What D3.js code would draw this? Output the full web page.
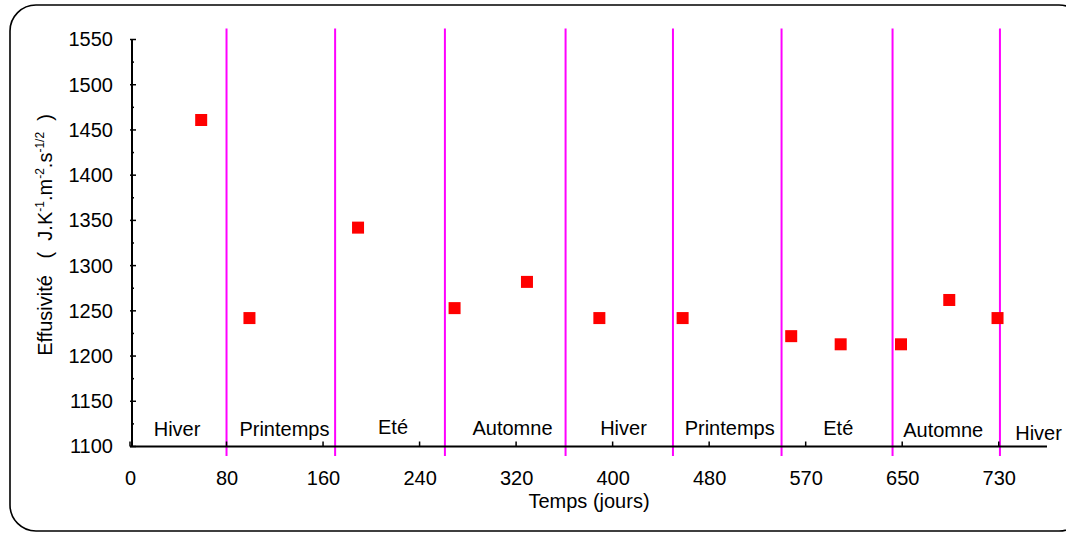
<!DOCTYPE html>
<html lang="fr">
    <head>
        <meta charset="UTF-8">
        <style>
            html, body{
                margin: 0;
                padding: 0;
                background: #fff;
                font-family: 'Liberation Sans', Arial, sans-serif;
            }
            #chart text{
                fill: #000;
            }
        </style>
    </head>
    <body>
        <svg id="chart" width="1066" height="533"></svg>

        <script src="https://d3js.org/d3.v7.min.js"></script>
        <script>
            // ---- data ----
            const days = [59, 99, 189, 269, 329, 389, 458, 548, 589, 639, 679, 719]
            const effusivity = [1461, 1242, 1342, 1253, 1282, 1242, 1242, 1222, 1213, 1213, 1262, 1242]

            const seasonLimits = [80, 170, 261, 361, 450, 540, 632, 721]
            const seasonNames = ['Hiver', 'Printemps', 'Eté', 'Automne', 'Hiver', 'Printemps', 'Eté', 'Automne', 'Hiver']
            const seasonX = [39, 128, 218, 317, 409, 497, 587, 674, 753]
            const seasonY = [1119, 1119, 1122, 1120, 1121, 1120, 1120, 1118, 1115]

            const xTicks = [0, 80, 160, 240, 320, 400, 480, 560, 640, 720]
            const xTickLabels = ['0', '80', '160', '240', '320', '400', '480', '570', '650', '730']
            const yTicks = [1100, 1150, 1200, 1250, 1300, 1350, 1400, 1450, 1500, 1550]
            const yMinorTicks = d3.range(1125, 1550, 50)

            // ---- layout ----
            const svg = d3.select('#chart')
            const plot = {left: 130, right: 1047, top: 39.5, bottom: 446.5}

            const x = d3.scaleLinear().domain([0, 760]).range([plot.left, plot.right])
            const y = d3.scaleLinear().domain([1100, 1550]).range([plot.bottom, plot.top])

            // frame
            svg.append('rect')
                .attr('x', 10).attr('y', 5)
                .attr('width', 1075).attr('height', 526)
                .attr('rx', 26)
                .attr('fill', 'none')
                .attr('stroke', '#000')
                .attr('stroke-width', 1.6)

            // season separators
            svg.append('g').selectAll('line')
                .data(seasonLimits)
                .join('line')
                .attr('x1', d => x(d)).attr('x2', d => x(d))
                .attr('y1', plot.top - 11).attr('y2', plot.bottom + 9.5)
                .attr('stroke', '#ff00ff')
                .attr('stroke-width', 2)

            // y axis
            const yAxis = svg.append('g').attr('transform', `translate(${plot.left + 2},0)`)
            yAxis.call(d3.axisLeft(y).tickValues(yTicks).tickSize(0).tickPadding(19).tickFormat(d3.format('d')))
            yAxis.select('.domain').remove()
            yAxis.append('line')
                .attr('x1', 0).attr('x2', 0)
                .attr('y1', plot.top).attr('y2', plot.bottom)
                .attr('stroke', '#000').attr('stroke-width', 2)
            yAxis.selectAll('line.major')
                .data(yTicks).join('line').attr('class', 'major')
                .attr('x1', -2).attr('x2', 4)
                .attr('y1', d => y(d)).attr('y2', d => y(d))
                .attr('stroke', '#000').attr('stroke-width', 1.5)
            yAxis.selectAll('line.minor')
                .data(yMinorTicks).join('line').attr('class', 'minor')
                .attr('x1', -1).attr('x2', 2)
                .attr('y1', d => y(d)).attr('y2', d => y(d))
                .attr('stroke', '#000').attr('stroke-width', 1.5)
            yAxis.selectAll('.tick text')
                .style('font-size', '20px')
                .style('font-family', "'Liberation Sans', Arial, sans-serif")

            // x axis
            const xAxis = svg.append('g').attr('transform', `translate(0,${plot.bottom})`)
            xAxis.call(d3.axisBottom(x).tickValues(xTicks).tickSize(0).tickPadding(24)
                .tickFormat((d, i) => xTickLabels[i]))
            xAxis.select('.domain').remove()
            xAxis.append('line')
                .attr('x1', plot.left).attr('x2', plot.right)
                .attr('y1', 0).attr('y2', 0)
                .attr('stroke', '#000').attr('stroke-width', 2)
            xAxis.selectAll('line.major')
                .data(xTicks).join('line').attr('class', 'major')
                .attr('x1', d => x(d)).attr('x2', d => x(d))
                .attr('y1', -5).attr('y2', 0)
                .attr('stroke', '#000').attr('stroke-width', 1.5)
            xAxis.selectAll('.tick text')
                .style('font-size', '20px')
                .style('font-family', "'Liberation Sans', Arial, sans-serif")

            // season labels
            svg.append('g').selectAll('text')
                .data(seasonNames)
                .join('text')
                .attr('x', (d, i) => x(seasonX[i]))
                .attr('y', (d, i) => y(seasonY[i]))
                .attr('dy', '0.35em')
                .attr('text-anchor', 'middle')
                .style('font-size', '20px')
                .text(d => d)

            // points
            svg.append('g').selectAll('rect')
                .data(days)
                .join('rect')
                .attr('x', d => x(d) - 6)
                .attr('y', (d, i) => y(effusivity[i]) - 6)
                .attr('width', 12).attr('height', 12)
                .attr('fill', '#ff0000')

            // axis titles
            svg.append('text')
                .attr('x', 589).attr('y', 508)
                .attr('text-anchor', 'middle')
                .style('font-size', '20px')
                .text('Temps (jours)')

            const yTitle = svg.append('text')
                .attr('transform', 'translate(52,235) rotate(-90)')
                .attr('text-anchor', 'middle')
                .style('font-size', '20px')
                .style('white-space', 'pre')
            yTitle.append('tspan').text('Effusivité   (  J.K')
            yTitle.append('tspan').attr('dy', -8).style('font-size', '12px').text('-1')
            yTitle.append('tspan').attr('dy', 8).text('.m')
            yTitle.append('tspan').attr('dy', -8).style('font-size', '12px').text('-2')
            yTitle.append('tspan').attr('dy', 8).text('.s')
            yTitle.append('tspan').attr('dy', -8).style('font-size', '12px').text('-1/2')
            yTitle.append('tspan').attr('dy', 8).text('  )')
        </script>
    </body>
</html>
